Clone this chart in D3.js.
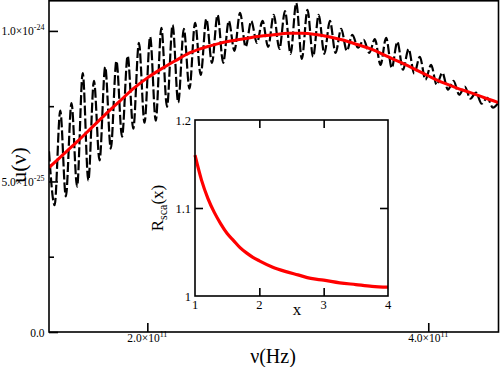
<!DOCTYPE html>
<html><head><meta charset="utf-8">
<script src="https://cdn.jsdelivr.net/npm/d3@7"></script>
<style>
body{margin:0;background:#fff}
svg{display:block}
text{font-family:"Liberation Serif","Times New Roman",serif;fill:#000}
</style>
</head><body>
<svg id="c" width="500" height="367"></svg>
<script>
// ---------- data ----------
const xTicks = [2e11, 4e11];
const xTickBase = ["2.0\u00d710", "4.0\u00d710"];
const xTickExp = ["11", "11"];
const yTicks = [0, 5e-25, 1e-24];
const yTickBase = ["0.0", "5.0\u00d710", "1.0\u00d710"];
const yTickExp = ["", "-25", "-24"];
const yMinorTicks = [2.5e-25, 7.5e-25];

// smooth (red) spectrum: frequency in GHz, u in 1e-25 units
const fitNuGHz = [130,140,150,160,170,180,190,200,210,220,230,240,250,260,270,280,290,300,310,320,330,340,350,360,370,380,390,400,410,420,430,440,450];
const fitU25 = [5.46,5.89,6.32,6.77,7.22,7.65,8.08,8.44,8.74,9.01,9.27,9.44,9.57,9.67,9.75,9.82,9.87,9.92,9.92,9.88,9.80,9.69,9.54,9.39,9.17,8.96,8.74,8.51,8.29,8.11,7.95,7.78,7.62];

// oscillating (black dashed) spectrum: alternating maxima / minima
const noisyNuGHz = [130,134,138,142,146,150,154,158,162,166,170,174,178,182,186,190,194,198,202,206,210,214,218,222,226,230,234,238,242,246,250,254,258,262,266,270,274,278,282,286,290,294,298,302,306,310,314,318,322,326,330,334,338,342,346,350,354,358,362,366,370,374,378,382,386,390,394,398,402,406,410,414,418,422,426,430,434,438,442,446,450];
const noisyU25 = [6.0,4.21, 7.35,4.5, 7.6,4.83, 8.6,5.03, 8.34,5.7,
 8.8,6.09, 9.0,6.49, 9.17,6.75, 9.6,6.95, 9.8,7.02,
 10.1,7.48, 10.2,7.62, 10.07,8.08, 10.27,8.54, 10.4,8.94,
 10.53,8.94, 10.33,9.34, 10.6,9.47, 10.33,9.6, 10.33,9.47,
 10.53,9.4, 10.66,9.24, 10.93,9.07, 10.7,9.14, 10.53,9.24,
 10.33,9.27, 10.07,9.34, 9.87,9.44, 9.7,9.27, 9.73,8.87,
 9.77,8.77, 9.64,8.71, 9.4,8.58, 9.14,8.38, 8.87,8.21,
 8.61,8.05, 8.34,7.88, 8.15,7.75, 7.95,7.58, 7.78,7.45,
 7.62];

// inset
const insetX = [1.0,1.1,1.2,1.3,1.4,1.5,1.6,1.7,1.8,1.9,2.0,2.2,2.4,2.6,2.8,3.0,3.25,3.5,3.75,4.0];
const insetR = [1.160,1.132,1.111,1.095,1.082,1.071,1.063,1.055,1.049,1.044,1.040,1.033,1.028,1.024,1.020,1.018,1.015,1.013,1.011,1.010];
const insetXTicks = [1, 2, 3, 4];
const insetXTickLabels = ["1", "2", "3", "4"];
const insetYTicks = [1, 1.1, 1.2];
const insetYTickLabels = ["1", "1.1", "1.2"];

// ---------- drawing ----------
const svg = d3.select("#c");
const L = 49, R = 498.5, T = 0.8, B = 332;
const x = d3.scaleLinear().domain([1.3e11, 4.5e11]).range([L, R]);
const y = d3.scaleLinear().domain([0, 1.1e-24]).range([B, T]);

const noisy = noisyNuGHz.map((n, i) => [n * 1e9, noisyU25[i] * 1e-25]);
const fit = fitNuGHz.map((n, i) => [n * 1e9, fitU25[i] * 1e-25]);

svg.append("clipPath").attr("id", "mc").append("rect")
  .attr("x", L).attr("y", T).attr("width", R - L).attr("height", B - T);

const plot = svg.append("g").attr("clip-path", "url(#mc)");
plot.append("path").datum(noisy)
  .attr("d", d3.line().x(d => x(d[0])).y(d => y(d[1])).curve(d3.curveMonotoneX))
  .attr("fill", "none").attr("stroke", "#000").attr("stroke-width", 2.2)
  .attr("stroke-dasharray", "10,3");
plot.append("path").datum(fit)
  .attr("d", d3.line().x(d => x(d[0])).y(d => y(d[1])).curve(d3.curveMonotoneX))
  .attr("fill", "none").attr("stroke", "#ff0000").attr("stroke-width", 3);

// frame
svg.append("rect").attr("x", L).attr("y", T).attr("width", R - L).attr("height", B - T)
  .attr("fill", "none").attr("stroke", "#000").attr("stroke-width", 1.6);

// axes ticks (inward)
function styleAxis(g) { g.select(".domain").remove(); g.selectAll("line").attr("stroke", "#000").attr("stroke-width", 1.6); }
svg.append("g").attr("transform", `translate(${L},0)`)
  .call(d3.axisLeft(y).tickValues(yTicks).tickSize(-9).tickFormat("")).call(styleAxis);
svg.append("g").attr("transform", `translate(${L},0)`)
  .call(d3.axisLeft(y).tickValues(yMinorTicks).tickSize(-5).tickFormat("")).call(styleAxis);
svg.append("g").attr("transform", `translate(0,${B})`)
  .call(d3.axisBottom(x).tickValues(xTicks).tickSize(-9).tickFormat("")).call(styleAxis);

// tick labels
yTicks.forEach((v, i) => {
  const t = svg.append("text").attr("x", 44.5).attr("y", y(v) + 4.5)
    .attr("text-anchor", "end").attr("font-size", 11.5);
  t.append("tspan").text(yTickBase[i]);
  if (yTickExp[i]) t.append("tspan").attr("dy", -5).attr("font-size", 8).text(yTickExp[i]);
});
xTicks.forEach((v, i) => {
  const t = svg.append("text").attr("x", x(v)).attr("y", 342)
    .attr("text-anchor", "middle").attr("font-size", 11.5);
  t.append("tspan").text(xTickBase[i]);
  t.append("tspan").attr("dy", -5).attr("font-size", 8).text(xTickExp[i]);
});

// axis titles
svg.append("text").attr("transform", "translate(26,165) rotate(-90)")
  .attr("text-anchor", "middle").attr("font-size", 22).text("u(\u03bd)");
svg.append("text").attr("x", 273).attr("y", 363)
  .attr("text-anchor", "middle").attr("font-size", 20).text("\u03bd(Hz)");

// ---------- inset ----------
const iL = 195, iR = 388, iT = 120, iB = 296;
const ix = d3.scaleLinear().domain([1, 4]).range([iL, iR]);
const iy = d3.scaleLinear().domain([1, 1.2]).range([iB, iT]);
svg.append("rect").attr("x", iL).attr("y", iT).attr("width", iR - iL).attr("height", iB - iT)
  .attr("fill", "#fff").attr("stroke", "none");
svg.append("path").datum(insetX.map((v, i) => [v, insetR[i]]))
  .attr("d", d3.line().x(d => ix(d[0])).y(d => iy(d[1])).curve(d3.curveMonotoneX))
  .attr("fill", "none").attr("stroke", "#ff0000").attr("stroke-width", 3.2);
svg.append("rect").attr("x", iL).attr("y", iT).attr("width", iR - iL).attr("height", iB - iT)
  .attr("fill", "none").attr("stroke", "#000").attr("stroke-width", 1.6);
const innerX = insetXTicks.slice(1, -1), innerY = insetYTicks.slice(1, -1);
svg.append("g").attr("transform", `translate(0,${iB})`)
  .call(d3.axisBottom(ix).tickValues(innerX).tickSize(-8).tickFormat("")).call(styleAxis);
svg.append("g").attr("transform", `translate(0,${iT})`)
  .call(d3.axisTop(ix).tickValues(innerX).tickSize(-8).tickFormat("")).call(styleAxis);
svg.append("g").attr("transform", `translate(${iL},0)`)
  .call(d3.axisLeft(iy).tickValues(innerY).tickSize(-8).tickFormat("")).call(styleAxis);
svg.append("g").attr("transform", `translate(${iR},0)`)
  .call(d3.axisRight(iy).tickValues(innerY).tickSize(-8).tickFormat("")).call(styleAxis);

insetXTicks.forEach((v, i) => {
  svg.append("text").attr("x", ix(v)).attr("y", 309).attr("text-anchor", "middle")
    .attr("font-size", 12.5).text(insetXTickLabels[i]);
});
insetYTicks.forEach((v, i) => {
  svg.append("text").attr("x", 191).attr("y", iy(v) + 4.5).attr("text-anchor", "end")
    .attr("font-size", 12.5).text(insetYTickLabels[i]);
});
svg.append("text").attr("x", 297).attr("y", 315).attr("text-anchor", "middle")
  .attr("font-size", 17).text("x");
const rl = svg.append("text").attr("transform", "translate(163,208) rotate(-90)")
  .attr("text-anchor", "middle").attr("font-size", 17);
rl.append("tspan").text("R");
rl.append("tspan").attr("dy", 4).attr("font-size", 12).text("sca");
rl.append("tspan").attr("dy", -4).text("(x)");
</script>
</body></html>
